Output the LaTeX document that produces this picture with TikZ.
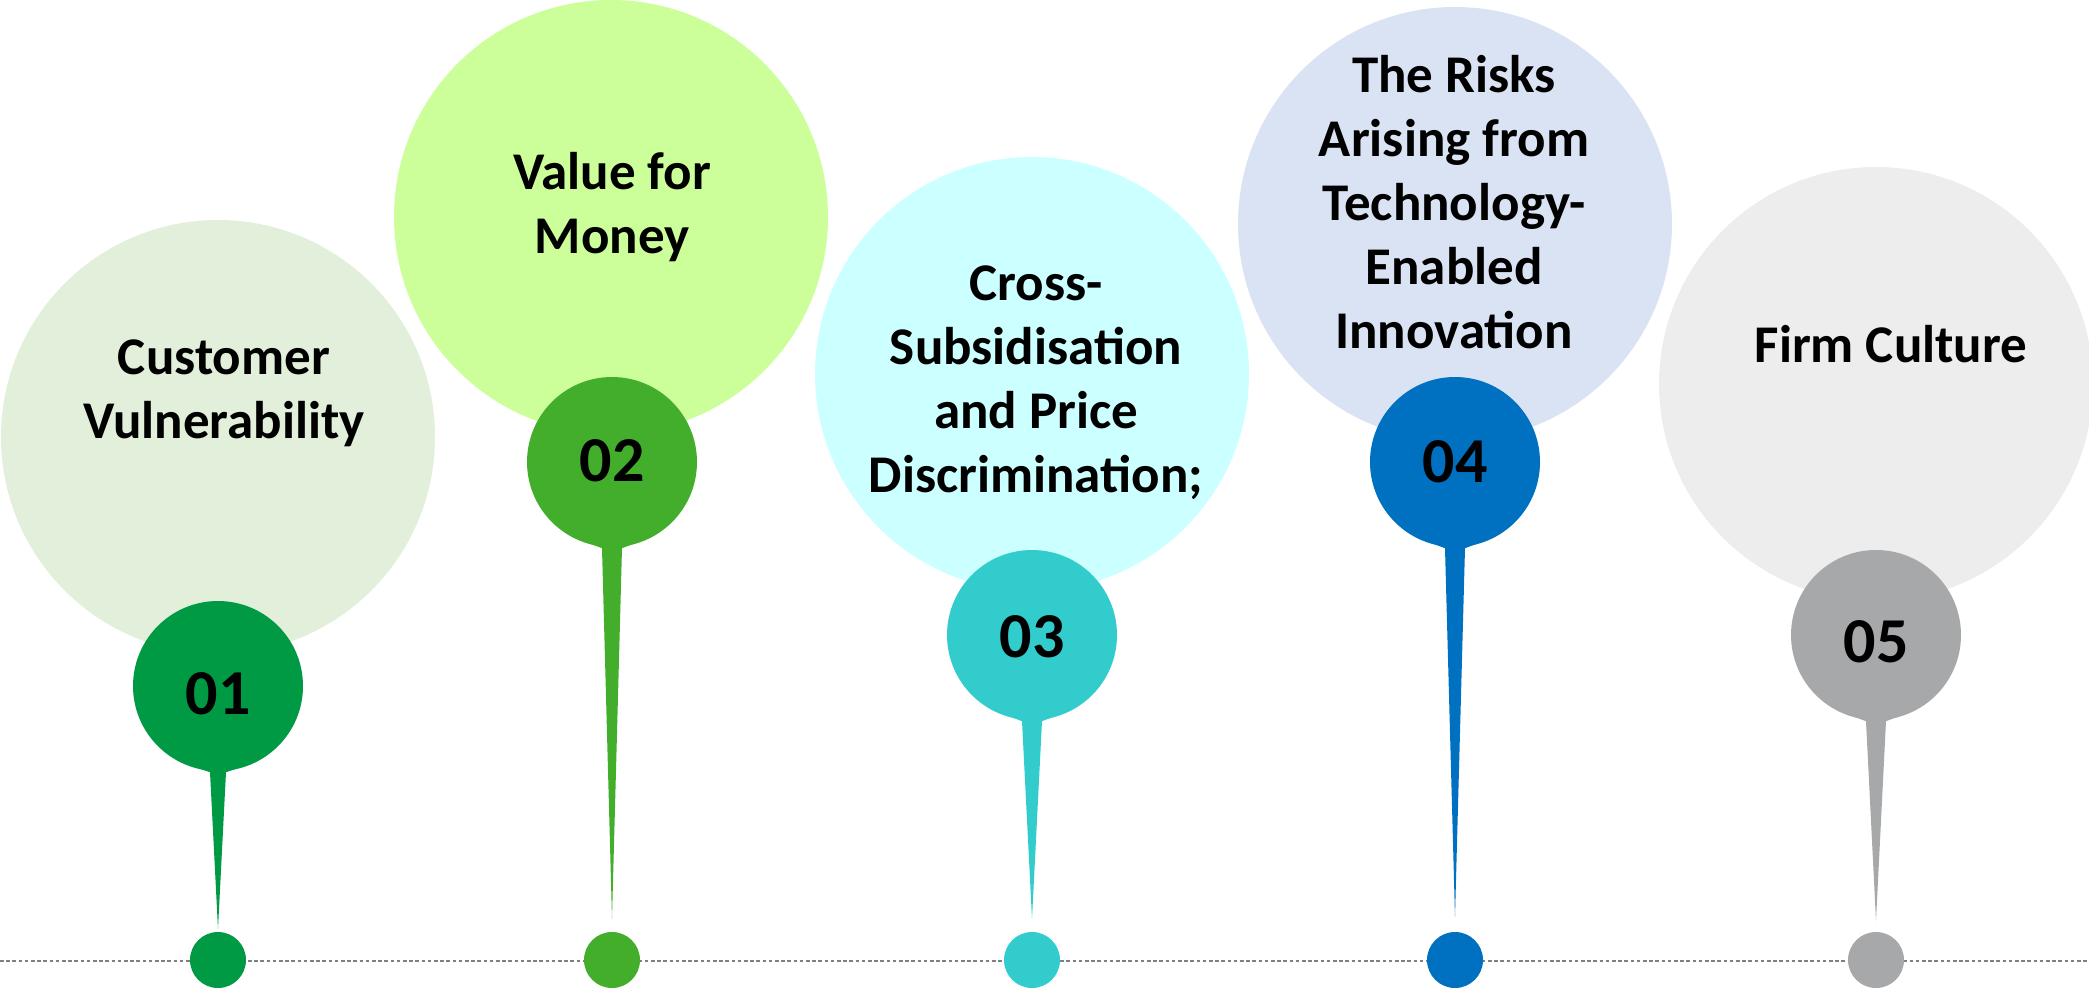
\documentclass[tikz,border=0pt]{standalone}
\usepackage{fontspec}
\setmainfont{Carlito}
\usepackage{tikz}

% light fills of the bubbles, dark fills of the pins
\definecolor{lt1}{RGB}{226,239,218}
\definecolor{lt2}{RGB}{204,255,153}
\definecolor{lt3}{RGB}{204,255,255}
\definecolor{lt4}{RGB}{218,227,243}
\definecolor{lt5}{RGB}{237,237,237}
\definecolor{dk1}{RGB}{0,154,68}
\definecolor{dk2}{RGB}{67,174,44}
\definecolor{dk3}{RGB}{51,204,204}
\definecolor{dk4}{RGB}{0,112,192}
\definecolor{dk5}{RGB}{167,168,170}
\definecolor{axis}{RGB}{127,127,127}

\begin{document}
\begin{tikzpicture}[x=1pt,y=-1pt,
  bubble/.style={circle,inner sep=0pt,minimum size=434pt},
  % the argument pushes the number down a little
  head/.style={circle,inner sep=0pt,minimum size=170pt,text height=#1,
    font=\fontsize{64}{70}\selectfont\bfseries},
  head/.default=40pt,
  dot/.style={circle,inner sep=0pt,minimum size=56pt},
  topic/.style={align=center,inner sep=0pt,anchor=north,
    font=\fontsize{53}{#1}\selectfont\bfseries},
  topic/.default=64]
\useasboundingbox (0,0) rectangle (2089,990);
\clip (0,0) rectangle (2089,990);

% big bubbles
\path
(218,437)  node[bubble,fill=lt1] (b1) {}
(611,217)  node[bubble,fill=lt2] (b2) {}
(1032,374) node[bubble,fill=lt3] (b3) {}
(1455,224) node[bubble,fill=lt4] (b4) {}
(1876,384) node[bubble,fill=lt5] (b5) {};

% titles
\path
(224,340)  node[topic] (t1) {Customer\\Vulnerability}
(612,152)  node[topic] (t2) {Value for\\Money}
(1036,266) node[topic] (t3) {Cross-\\Subsidisation\\and Price\\Discrimination;}
(1454,55)  node[topic] (t4) {The Risks\\Arising from\\Technology-\\Enabled\\Innovation}
(1891,325) node[topic] (t5) {Firm Culture};

% dotted time line
\coordinate (L) at (0,961);
\coordinate (R) at (2089,961);
\draw[axis,line width=2pt,dash pattern=on 3.5pt off 2.7pt] (L) -- (R);

% pins
\path
(218,686)  node[head=58pt,fill=dk1] (p1) {01}
(218,960)  node[dot,fill=dk1]  (d1) {}
(612,462)  node[head,fill=dk2] (p2) {02}
(612,960)  node[dot,fill=dk2]  (d2) {}
(1032,635) node[head=46pt,fill=dk3] (p3) {03}
(1032,960) node[dot,fill=dk3]  (d3) {}
(1455,462) node[head=42pt,fill=dk4] (p4) {04}
(1455,960) node[dot,fill=dk4]  (d4) {}
(1876,635) node[head=56pt,fill=dk5] (p5) {05}
(1876,960) node[dot,fill=dk5]  (d5) {};

\fill[dk1] ([xshift=-26pt,yshift=5pt]p1.south) -- ([xshift=-8pt,yshift=-1pt]p1.south)
  -- ([yshift=3pt]d1.north) -- ([xshift=8pt,yshift=-1pt]p1.south)
  -- ([xshift=26pt,yshift=5pt]p1.south) -- cycle;
\fill[dk2] ([xshift=-26pt,yshift=5pt]p2.south) -- ([xshift=-10pt,yshift=-1pt]p2.south)
  -- ([yshift=13pt]d2.north) -- ([xshift=10pt,yshift=-1pt]p2.south)
  -- ([xshift=26pt,yshift=5pt]p2.south) -- cycle;
\fill[dk3] ([xshift=-26pt,yshift=5pt]p3.south) -- ([xshift=-10pt,yshift=-1pt]p3.south)
  -- ([yshift=13pt]d3.north) -- ([xshift=10pt,yshift=-1pt]p3.south)
  -- ([xshift=26pt,yshift=5pt]p3.south) -- cycle;
\fill[dk4] ([xshift=-26pt,yshift=5pt]p4.south) -- ([xshift=-10pt,yshift=-1pt]p4.south)
  -- ([yshift=15pt]d4.north) -- ([xshift=10pt,yshift=-1pt]p4.south)
  -- ([xshift=26pt,yshift=5pt]p4.south) -- cycle;
\fill[dk5] ([xshift=-26pt,yshift=5pt]p5.south) -- ([xshift=-10pt,yshift=-1pt]p5.south)
  -- ([yshift=11pt]d5.north) -- ([xshift=10pt,yshift=-1pt]p5.south)
  -- ([xshift=26pt,yshift=5pt]p5.south) -- cycle;
\end{tikzpicture}
\end{document}
